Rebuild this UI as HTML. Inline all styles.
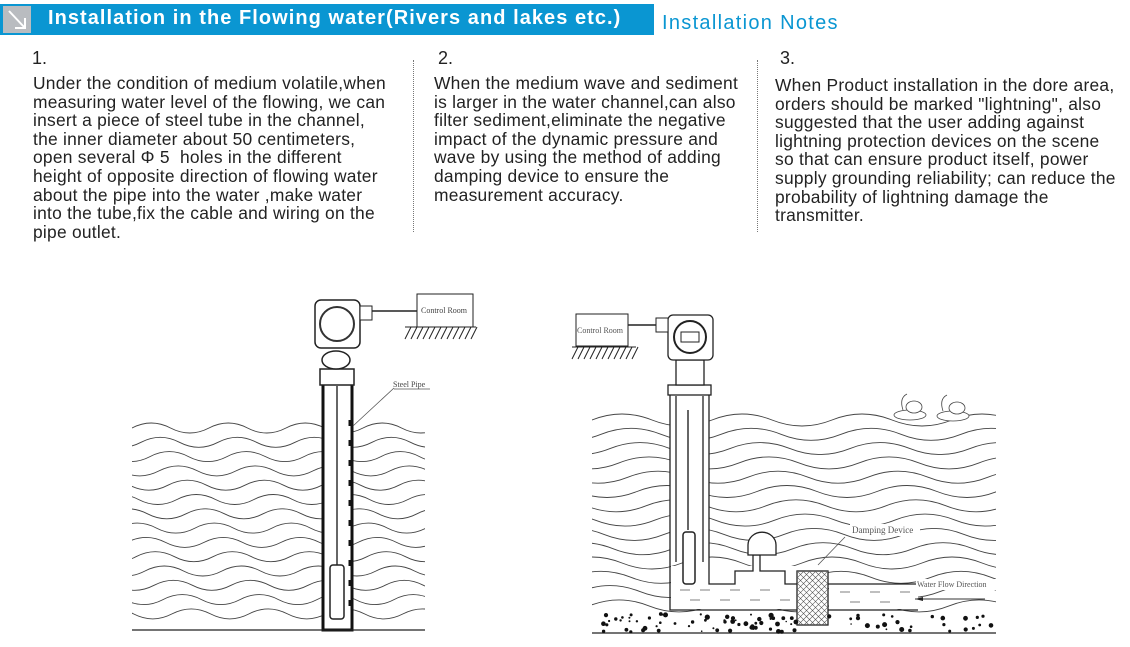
<!DOCTYPE html>
<html><head><meta charset="utf-8"><style>
body{margin:0;width:1130px;height:647px;background:#fff;position:relative;overflow:hidden;font-family:"Liberation Sans",sans-serif;}
.t{position:absolute;font-size:17.4px;line-height:18.6px;color:#222;letter-spacing:0.25px;white-space:nowrap}
.n{position:absolute;font-size:18px;color:#222}
.sep{position:absolute;top:60px;height:172px;border-left:1px dotted #777}
</style></head><body>
<div style="position:absolute;left:0;top:4px;width:654px;height:31px;background:#0a96d2"></div>
<div style="position:absolute;left:3px;top:6px;width:28px;height:27px;background:#b9bcc0"></div>
<svg style="position:absolute;left:3px;top:6px" width="28" height="27"><path d="M6 5 L22 22 M12 22 H22 V12" stroke="#fff" stroke-width="2" fill="none"/></svg>
<div style="position:absolute;left:48px;top:7px;color:#fff;font-weight:bold;font-size:20px;letter-spacing:1.05px;white-space:nowrap">Installation in the Flowing water(Rivers and lakes etc.)</div>
<div style="position:absolute;left:662px;top:12px;color:#0a96d2;font-size:20px;letter-spacing:1.3px">Installation Notes</div>
<div class="n" style="left:32px;top:48px">1.</div>
<div class="n" style="left:438px;top:48px">2.</div>
<div class="n" style="left:780px;top:48px">3.</div>
<div class="sep" style="left:413px"></div>
<div class="sep" style="left:757px"></div>
<div class="t" style="left:33px;top:74px">Under the condition of medium volatile,when<br>measuring water level of the flowing, we can<br>insert a piece of steel tube in the channel,<br>the inner diameter about 50 centimeters,<br>open several Φ 5&nbsp; holes in the different<br>height of opposite direction of flowing water<br>about the pipe into the water ,make water<br>into the tube,fix the cable and wiring on the<br>pipe outlet.</div>
<div class="t" style="left:434px;top:74px">When the medium wave and sediment<br>is larger in the water channel,can also<br>filter sediment,eliminate the negative<br>impact of the dynamic pressure and<br>wave by using the method of adding<br>damping device to ensure the<br>measurement accuracy.</div>
<div class="t" style="left:775px;top:76px">When Product installation in the dore area,<br>orders should be marked "lightning", also<br>suggested that the user adding against<br>lightning protection devices on the scene<br>so that can ensure product itself, power<br>supply grounding reliability; can reduce the<br>probability of lightning damage the<br>transmitter.</div>

<svg id="d" style="position:absolute;left:0;top:0" width="1130" height="647" font-family="Liberation Serif,serif">
<clipPath id="c1"><rect x="132" y="400" width="293" height="230"/></clipPath>
<clipPath id="c3"><rect x="592" y="390" width="404" height="225"/></clipPath>
<clipPath id="c2"><rect x="797" y="571" width="31" height="54"/></clipPath>
<g id="w1" stroke="#444" stroke-width="0.9" fill="none" clip-path="url(#c1)"></g>
<g id="w2" stroke="#444" stroke-width="0.9" fill="none" clip-path="url(#c3)"></g>
<!-- diagram 1 -->
<rect x="323" y="384" width="29" height="246" fill="#fff" stroke="#111" stroke-width="3"/>
<line x1="337" y1="386" x2="337" y2="565" stroke="#333" stroke-width="1.5"/>
<rect x="330" y="565" width="14" height="54" rx="3" fill="#fff" stroke="#222" stroke-width="1.5"/>
<line x1="350" y1="420" x2="350" y2="620" stroke="#111" stroke-width="3" stroke-dasharray="6,14"/>
<rect x="320" y="369" width="34" height="16" fill="#fff" stroke="#222" stroke-width="1.5"/>
<ellipse cx="336" cy="360" rx="14" ry="9" fill="#fff" stroke="#222" stroke-width="1.5"/>
<rect x="315" y="300" width="45" height="48" rx="6" fill="#fff" stroke="#222" stroke-width="1.5"/>
<circle cx="337" cy="324" r="17" fill="#fff" stroke="#333" stroke-width="2"/>
<rect x="360" y="306" width="12" height="14" fill="#fff" stroke="#222"/>
<line x1="372" y1="311" x2="417" y2="311" stroke="#222" stroke-width="1.5"/>
<rect x="417" y="294" width="56" height="33" fill="#fff" stroke="#222"/>
<text x="421" y="313" font-size="8" fill="#444">Control Room</text>
<line x1="405" y1="327" x2="476" y2="327" stroke="#222"/>
<path id="h1" d="" stroke="#222" fill="none"/>
<line x1="353" y1="426" x2="394" y2="388" stroke="#555" stroke-width="0.8"/>
<text x="393" y="387" font-size="8" fill="#444">Steel Pipe</text>
<line x1="394" y1="389" x2="430" y2="389" stroke="#555" stroke-width="0.8"/>
<line x1="132" y1="630" x2="425" y2="630" stroke="#222" stroke-width="1.2"/>
<!-- diagram 2 -->
<rect x="670" y="385" width="39" height="177" fill="#fff" stroke="none"/>
<rect x="671" y="566" width="126" height="43" fill="#fff" stroke="none"/>
<rect x="829" y="585" width="89" height="24" fill="#fff" stroke="none"/>
<path d="M670 385 V610 H797 M828 610 H918 M709 385 V584 H735 V571 H753 V555 H760 V571 H785 V584 H797 M828 584 H918 M676 396 V562 M703 396 V562" fill="none" stroke="#222" stroke-width="1.3"/>
<path d="M680 590 h10 M700 590 h10 M730 590 h10 M760 590 h10 M690 600 h10 M720 600 h10 M750 600 h10 M780 600 h10 M840 592 h10 M870 592 h10 M900 592 h10 M850 602 h10 M880 602 h10" stroke="#555" stroke-width="0.8"/>
<line x1="688" y1="410" x2="688" y2="530" stroke="#333" stroke-width="1.5"/>
<rect x="683" y="532" width="12" height="52" rx="3" fill="#fff" stroke="#222" stroke-width="1.5"/>
<rect x="797" y="571" width="31" height="54" fill="#fff" stroke="#222" stroke-width="1.3"/>
<path id="x2" d="" stroke="#555" stroke-width="0.6" fill="none" clip-path="url(#c2)"/>
<path d="M748 555 V545 A12 11 0 0 1 776 545 V555 Z" fill="#fff" stroke="#222" stroke-width="1.3"/>
<rect x="668" y="385" width="43" height="10" fill="#fff" stroke="#222" stroke-width="1.3"/>
<rect x="676" y="360" width="28" height="25" fill="#fff" stroke="#222" stroke-width="1.3"/>
<rect x="668" y="315" width="45" height="45" rx="5" fill="#fff" stroke="#222" stroke-width="1.3"/>
<circle cx="690" cy="337" r="16" fill="#fff" stroke="#222" stroke-width="2"/>
<rect x="681" y="332" width="18" height="10" fill="#fff" stroke="#222"/>
<rect x="656" y="318" width="12" height="14" fill="#fff" stroke="#222"/>
<line x1="628" y1="325" x2="656" y2="325" stroke="#222" stroke-width="1.5"/>
<rect x="576" y="314" width="52" height="32" fill="#fff" stroke="#222"/>
<text x="577" y="333" font-size="8" fill="#555">Control Room</text>
<line x1="572" y1="347" x2="636" y2="347" stroke="#222"/>
<path id="h2" d="" stroke="#222" fill="none"/>
<rect x="850" y="524" width="70" height="12" fill="#fff"/>
<text x="852" y="533" font-size="9" fill="#555">Damping Device</text>
<line x1="845" y1="537" x2="818" y2="565" stroke="#555" stroke-width="0.8"/>
<rect x="916" y="579" width="80" height="11" fill="#fff"/>
<text x="917" y="587" font-size="8" fill="#555">Water Flow Direction</text>
<line x1="915" y1="599" x2="985" y2="599" stroke="#333"/>
<path d="M915 599 l8 -2 v4z" fill="#222"/>
<line x1="592" y1="633" x2="996" y2="633" stroke="#222" stroke-width="1.2"/>
<g id="dots" fill="#111"></g>
<g fill="#fff" stroke="#444" stroke-width="0.8"><ellipse cx="910" cy="415" rx="16" ry="5"/><ellipse cx="953" cy="416" rx="16" ry="5"/><path d="M903 410 q-4-12 4-16 M943 411 q-4-12 4-16" fill="none"/><ellipse cx="914" cy="407" rx="8" ry="6"/><ellipse cx="957" cy="408" rx="8" ry="6"/></g>
</svg>
<script>
function waves(id,x0,x1,y0,n,sp,A,P){var out='';var h=P/2;for(var i=0;i<n;i++){var y=y0+i*sp;var x=x0-P+((i*9)%P);var d='M'+x.toFixed(1)+' '+y.toFixed(1);var s=-1;while(x<x1+P){var cx=x+h/2,ex=x+h;d+=' Q'+cx.toFixed(1)+' '+(y+s*2*A).toFixed(1)+' '+ex.toFixed(1)+' '+y.toFixed(1);x=ex;s=-s;}out+='<path d="'+d+'"/>';}document.getElementById(id).innerHTML=out;}
waves('w1',132,425,428,14,14.3,5,77);waves('w2',592,995,420,14,14.3,6,120);
function hatch(id,x0,x1,y){var d='';for(var x=x0;x<x1;x+=6)d+='M'+(x+6)+' '+y+' L'+x+' '+(y+12)+' ';document.getElementById(id).setAttribute('d',d);}
hatch('h1',405,476,327);hatch('h2',572,636,347);
var d='';for(var k=-60;k<60;k+=6){d+='M'+(797+k)+' 571 l54 54 M'+(828-k)+' 571 l-54 54 ';}
document.getElementById('x2').setAttribute('d',d);
var s='',r=7;function rnd(){r=(r*9301+49297)%233280;return r/233280;}
for(var i=0;i<95;i++){var x=595+rnd()*400,y=614+rnd()*18;if(x>796&&x<829)continue;s+='<circle cx="'+x.toFixed(1)+'" cy="'+y.toFixed(1)+'" r="'+(0.8+rnd()*1.8).toFixed(1)+'"/>';}
document.getElementById('dots').innerHTML=s;
</script>
</body></html>
